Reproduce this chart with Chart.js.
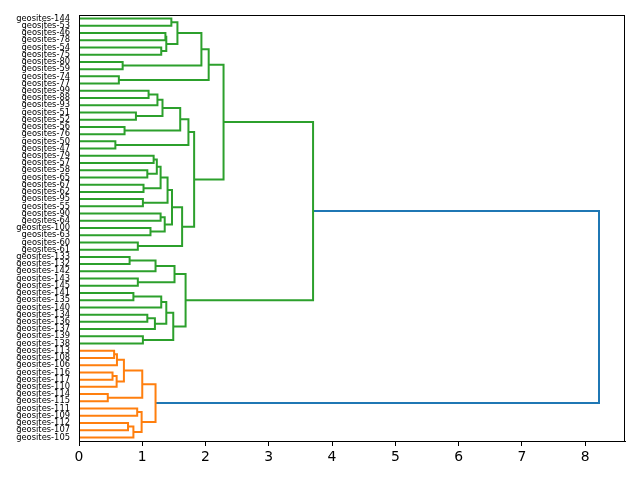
<!DOCTYPE html>
<html>
<head>
<meta charset="utf-8">
<script src="https://cdn.jsdelivr.net/npm/chart.js@4.4.1/dist/chart.umd.min.js"></script>
<style>
html,body{margin:0;padding:0;background:#fff;}
#wrap{width:640px;height:480px;}
</style>
</head>
<body>
<div id="wrap"><canvas id="c" width="640" height="480"></canvas></div>
<script>
// Leaves, top to bottom
const leafLabels = [
 "geosites-144","geosites-53","geosites-46","geosites-78","geosites-54","geosites-75",
 "geosites-80","geosites-59","geosites-74","geosites-77","geosites-99","geosites-88",
 "geosites-93","geosites-51","geosites-52","geosites-56","geosites-76","geosites-50",
 "geosites-47","geosites-79","geosites-57","geosites-58","geosites-65","geosites-67",
 "geosites-62","geosites-95","geosites-55","geosites-90","geosites-64","geosites-100",
 "geosites-63","geosites-60","geosites-61","geosites-133","geosites-132","geosites-142",
 "geosites-143","geosites-145","geosites-141","geosites-135","geosites-140","geosites-134",
 "geosites-136","geosites-137","geosites-139","geosites-138","geosites-113","geosites-108",
 "geosites-106","geosites-116","geosites-117","geosites-110","geosites-114","geosites-115",
 "geosites-111","geosites-109","geosites-112","geosites-107","geosites-105"
];
// Merge k creates node id leafLabels.length + k
const mergeA = [0,2,4,60,59,6,63,8,65, 10,68,13,69,15,71,17,73, 19,21,76,23,78,25,80,27,29,83,82,31,86,75,67,
 33,91,36,92,38,95,41,97,96,44,99,94,90,
 46,104,49,106,105,52,108,54,56,112,111,110,103];
const mergeB = [1,3,5,61,62,7,64,9,66, 11,12,14,70,16,72,18,74, 20,22,77,24,79,26,81,28,30,84,85,32,87,88,89,
 34,35,37,93,39,40,42,43,98,45,100,101,102,
 47,48,50,51,107,53,109,55,57,58,113,114,115];
const mergeHeight = [1.46,1.366,1.30,1.38,1.556,0.69,1.935,0.63,2.05, 1.10,1.24,0.90,1.32,0.72,1.60,0.575,1.73,
 1.18,1.08,1.23,1.02,1.29,1.01,1.40,1.29,1.13,1.355,1.47,0.93,1.63,1.82,2.285,
 0.80,1.21,0.93,1.51,0.86,1.30,1.08,1.20,1.38,1.01,1.49,1.685,3.70,
 0.555,0.60,0.53,0.595,0.71,0.455,1.00,0.92,0.775,0.86,0.99,1.21,8.22];
const xTicks = [0,1,2,3,4,5,6,7,8];

const palette = ["#ff7f0e","#2ca02c","#d62728","#9467bd"];
const aboveColor = "#1f77b4";

const nLeaf = leafLabels.length;
const maxH = Math.max(...mergeHeight);
const threshold = 0.7*maxH;
const nodeY = [], nodeH = [];
for (let i=0;i<nLeaf;i++){ nodeY.push(10*i+5); nodeH.push(0); }
const children = {};
mergeHeight.forEach((h,k)=>{
  const id = nLeaf+k;
  nodeY[id] = (nodeY[mergeA[k]]+nodeY[mergeB[k]])/2;
  nodeH[id] = h;
  children[id] = [mergeA[k], mergeB[k]];
});
// cluster colouring like scipy: clusters in order from the bottom
const nodeColor = {};
let ci = 0;
function paint(id, col){ nodeColor[id]=col; if(children[id]) children[id].forEach(c=>paint(c,col)); }
function walk(id){
  if(!children[id]) return;
  if(nodeH[id] <= threshold){ paint(id, null); return; }
  nodeColor[id]=aboveColor;
  // bottom-first order
  const ch = children[id].slice().sort((a,b)=>nodeY[b]-nodeY[a]);
  ch.forEach(c=>{
    if(children[c] && nodeH[c] <= threshold){ paint(c, palette[ci++ % palette.length]); }
    else walk(c);
  });
}
walk(nLeaf+mergeHeight.length-1);

const datasets = mergeHeight.map((h,k)=>{
  const a = mergeA[k], b = mergeB[k];
  return {
    data:[{x:nodeH[a],y:nodeY[a]},{x:h,y:nodeY[a]},{x:h,y:nodeY[b]},{x:nodeH[b],y:nodeY[b]}],
    showLine:true, borderColor:nodeColor[nLeaf+k]||aboveColor, borderWidth:2,
    pointRadius:0, fill:false, tension:0
  };
});

const frame = {
  id:'frame',
  afterDraw(chart){
    const a = chart.chartArea, ctx = chart.ctx;
    ctx.save(); ctx.strokeStyle='#000'; ctx.lineWidth=1;
    ctx.strokeRect(Math.round(a.left)+0.5, Math.round(a.top)+0.5, Math.round(a.right-a.left)-1, Math.round(a.bottom-a.top));
    ctx.restore();
  }
};

new Chart(document.getElementById('c'), {
  type:'scatter',
  data:{datasets},
  options:{
    responsive:false, animation:false,
    layout:{padding:{top:15,right:15,left:0,bottom:0}},
    plugins:{legend:{display:false}, tooltip:{enabled:false}},
    scales:{
      x:{
        type:'linear', min:0, max:maxH*1.05,
        afterBuildTicks(s){ s.ticks = xTicks.map(v=>({value:v})); },
        afterFit(s){ s.height = 39; },
        ticks:{color:'#000', font:{family:'DejaVu Sans', size:13.9}, padding:3, maxRotation:0},
        grid:{drawOnChartArea:false, drawTicks:true, tickLength:5, color:'#000', lineWidth:1},
        border:{display:true, color:'#000', width:1}
      },
      y:{
        type:'linear', reverse:true, min:0, max:nLeaf*10,
        afterBuildTicks(s){ s.ticks = leafLabels.map((l,i)=>({value:10*i+5})); },
        afterFit(s){ s.width = 79; },
        ticks:{autoSkip:false, color:'#000', font:{family:'DejaVu Sans', size:8.33}, padding:9,
          callback:(v)=>leafLabels[Math.round((v-5)/10)]},
        grid:{drawOnChartArea:false, drawTicks:false},
        border:{display:true, color:'#000', width:1}
      }
    }
  },
  plugins:[frame]
});
</script>
</body>
</html>
